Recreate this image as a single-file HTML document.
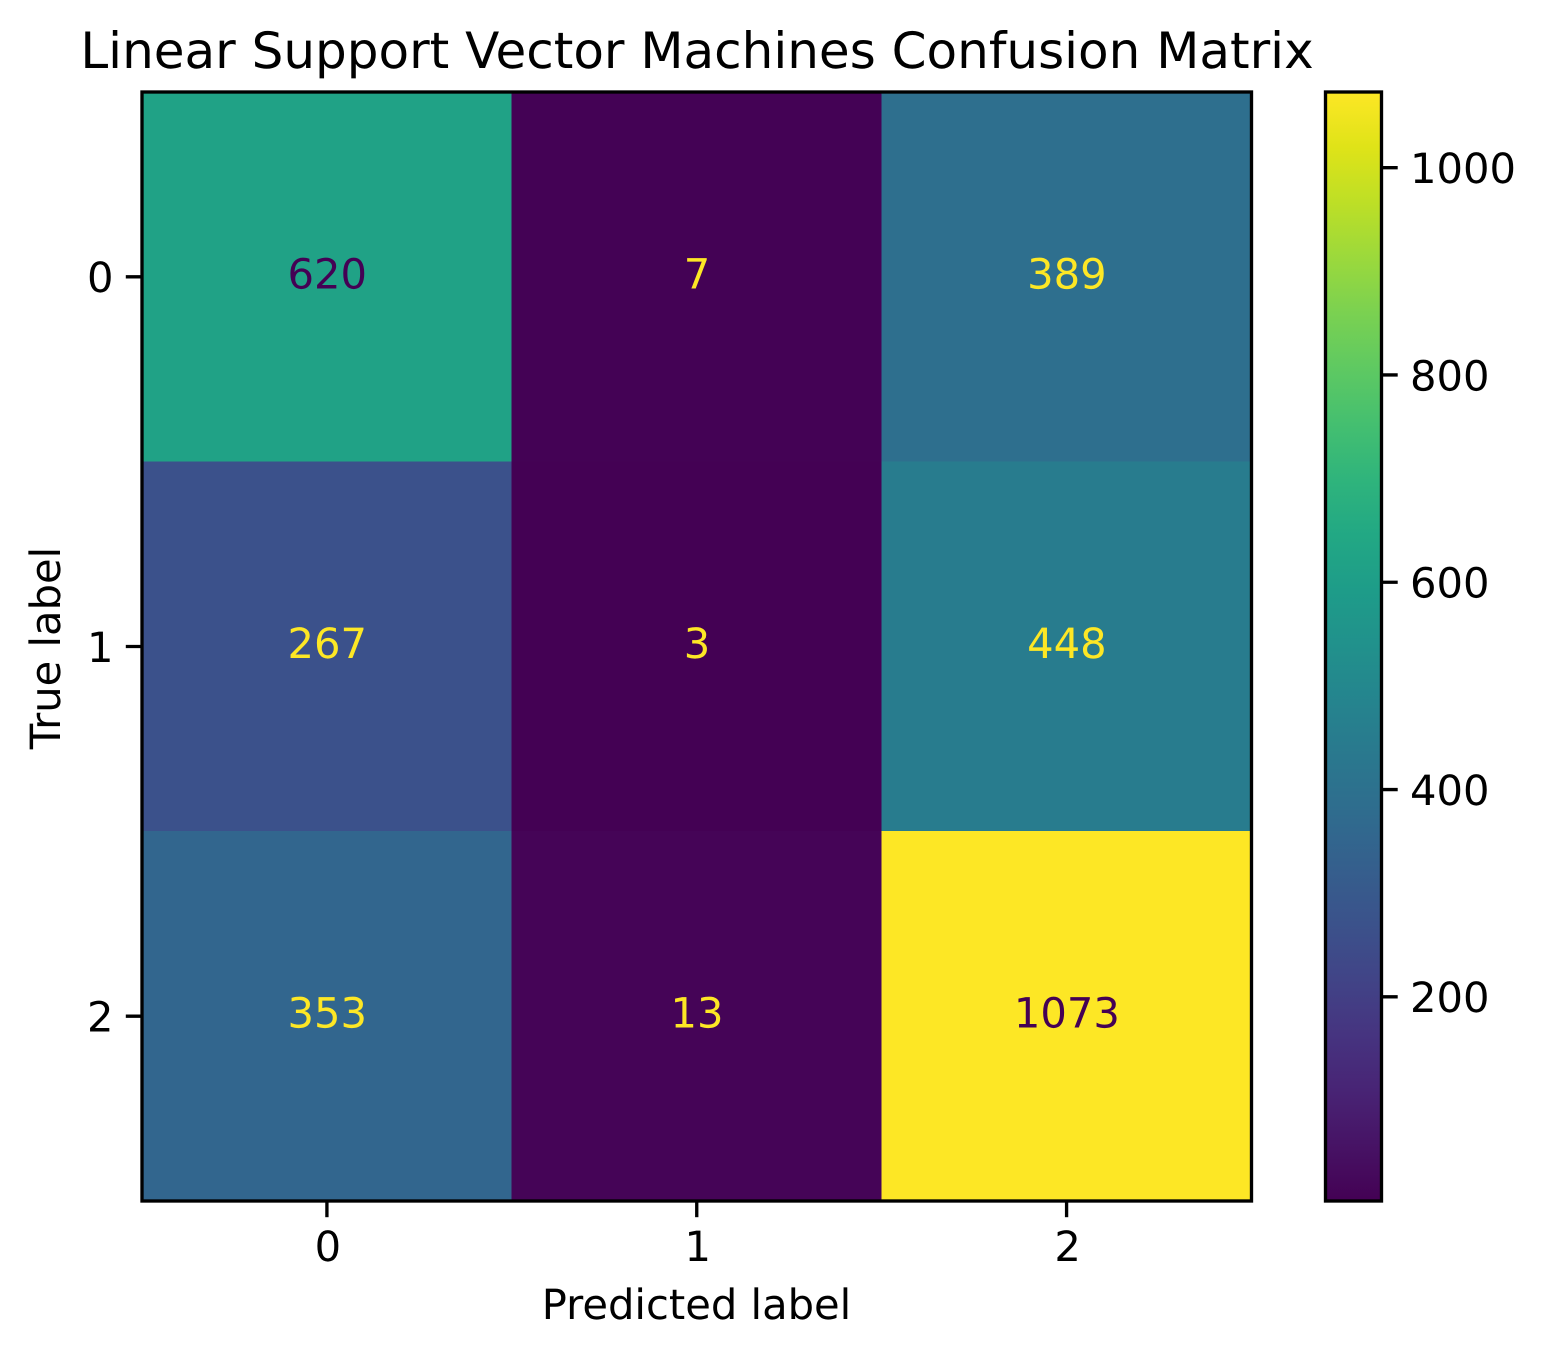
<!DOCTYPE html>
<html lang="en">
<head>
<meta charset="utf-8">
<title>Linear Support Vector Machines Confusion Matrix</title>
<style>
html,body{margin:0;padding:0;background:#fff;width:1546px;height:1357px;overflow:hidden}
svg{display:block}
text{font-family:"DejaVu Sans","Liberation Sans",sans-serif;text-rendering:geometricPrecision;fill:#000}
</style>
</head>
<body>
<svg id="chart" xmlns="http://www.w3.org/2000/svg" width="1546" height="1357" viewBox="0 0 1546 1357">
  <rect x="0" y="0" width="1546" height="1357" fill="#ffffff"/>
  <defs>
    <linearGradient id="viridis-gradient" x1="0" y1="1" x2="0" y2="0"></linearGradient>
  </defs>
  <g id="cells"></g>
  <g id="annotations"></g>
  <rect x="142" y="92" width="1109.5" height="1109" fill="none" stroke="#000" stroke-width="3.33"/>
  <g id="x-axis"></g>
  <g id="y-axis"></g>
  <rect id="colorbar-fill" x="1325.5" y="92" width="56" height="1109" fill="url(#viridis-gradient)"/>
  <rect x="1325.5" y="92" width="56" height="1109" fill="none" stroke="#000" stroke-width="3.33"/>
  <g id="colorbar-axis"></g>
  <text x="697" y="68" font-size="50" text-anchor="middle">Linear Support Vector Machines Confusion Matrix</text>
  <text x="696.5" y="1319" font-size="41.67" text-anchor="middle">Predicted label</text>
  <text transform="translate(60 648) rotate(-90)" x="0" y="0" font-size="41.67" text-anchor="middle">True label</text>
</svg>
<script>
const predictedLabels = ["0", "1", "2"];
const trueLabels = ["0", "1", "2"];
const trueLabel0Counts = [620, 7, 389];
const trueLabel1Counts = [267, 3, 448];
const trueLabel2Counts = [353, 13, 1073];
const colorbarTicks = [200, 400, 600, 800, 1000];

const matrix = [trueLabel0Counts, trueLabel1Counts, trueLabel2Counts];
const viridis = ["#440154","#471365","#482475","#463480","#414487","#3b528b","#355f8d","#2f6c8e","#2a788e","#25848e","#21918c","#1e9c89","#22a884","#2fb47c","#44bf70","#5ec962","#7ad151","#9bd93c","#bddf26","#dfe318","#fde725"];
const NS = "http://www.w3.org/2000/svg";

const allValues = matrix.flat();
const vmin = Math.min(...allValues);
const vmax = Math.max(...allValues);

const plotLeft = 142, plotRight = 1251.5, plotTop = 92, plotBottom = 1201;
const cbRight = 1381.5;
const fontSize = 41.67;

function xScale(i) {
  return plotLeft + (i + 0.5) * (plotRight - plotLeft) / predictedLabels.length;
}
function yScale(i) {
  return plotTop + (i + 0.5) * (plotBottom - plotTop) / trueLabels.length;
}
function cbScale(v) {
  return plotBottom - (v - vmin) / (vmax - vmin) * (plotBottom - plotTop);
}
function hexToRgb(h) {
  return [1, 3, 5].map(function (k) { return parseInt(h.substr(k, 2), 16); });
}
function colorFor(v) {
  const t = Math.max(0, Math.min(1, (v - vmin) / (vmax - vmin))) * (viridis.length - 1);
  const lo = Math.min(Math.floor(t), viridis.length - 2);
  const f = t - lo;
  const a = hexToRgb(viridis[lo]);
  const b = hexToRgb(viridis[lo + 1]);
  return "rgb(" + a.map(function (c, k) { return Math.round(c + (b[k] - c) * f); }).join(",") + ")";
}
function make(tag, attrs, parent, content) {
  const el = document.createElementNS(NS, tag);
  Object.keys(attrs).forEach(function (k) { el.setAttribute(k, attrs[k]); });
  if (content !== undefined) el.textContent = content;
  parent.appendChild(el);
  return el;
}

const gradient = document.getElementById("viridis-gradient");
viridis.forEach(function (c, i) {
  make("stop", { offset: i / (viridis.length - 1), "stop-color": c }, gradient);
});

const cellsGroup = document.getElementById("cells");
const annotationsGroup = document.getElementById("annotations");
const cellW = (plotRight - plotLeft) / predictedLabels.length;
const cellH = (plotBottom - plotTop) / trueLabels.length;
matrix.forEach(function (row, r) {
  row.forEach(function (value, c) {
    const cell = make("rect", {
      x: xScale(c) - cellW / 2 - 0.4,
      y: yScale(r) - cellH / 2 - 0.4,
      width: cellW,
      height: cellH,
      fill: colorFor(value),
      "shape-rendering": "crispEdges"
    }, cellsGroup);
    
    

    const label = make("text", {
      x: xScale(c) + 0.3,
      y: yScale(r) + 11.5,
      "font-size": fontSize,
      "text-anchor": "middle"
    }, annotationsGroup, String(value));
    label.style.fill = value < (vmin + vmax) / 2 ? "#fde725" : "#440154";
    
    
  });
});

const xAxisGroup = document.getElementById("x-axis");
predictedLabels.forEach(function (name, i) {
  const tick = make("line", {
    x1: xScale(i), x2: xScale(i), y1: plotBottom, y2: plotBottom + 16.2,
    stroke: "#000", "stroke-width": 3.33
  }, xAxisGroup);
  
  

  const label = make("text", {
    x: xScale(i) + 1, y: 1261, "font-size": fontSize, "text-anchor": "middle"
  }, xAxisGroup, name);
  
  
});

const yAxisGroup = document.getElementById("y-axis");
trueLabels.forEach(function (name, i) {
  const tick = make("line", {
    x1: plotLeft - 16.2, x2: plotLeft, y1: yScale(i), y2: yScale(i),
    stroke: "#000", "stroke-width": 3.33
  }, yAxisGroup);
  
  

  const label = make("text", {
    x: 113.5, y: yScale(i) + 15.3, "font-size": fontSize, "text-anchor": "end"
  }, yAxisGroup, name);
  
  
});

const cbGroup = document.getElementById("colorbar-axis");
colorbarTicks.forEach(function (value) {
  const tick = make("line", {
    x1: cbRight, x2: cbRight + 16.2, y1: cbScale(value), y2: cbScale(value),
    stroke: "#000", "stroke-width": 3.33
  }, cbGroup);
  
  

  const label = make("text", {
    x: 1410, y: cbScale(value) + 15.3, "font-size": fontSize
  }, cbGroup, String(value));
  
  
});
</script>
</body>
</html>
